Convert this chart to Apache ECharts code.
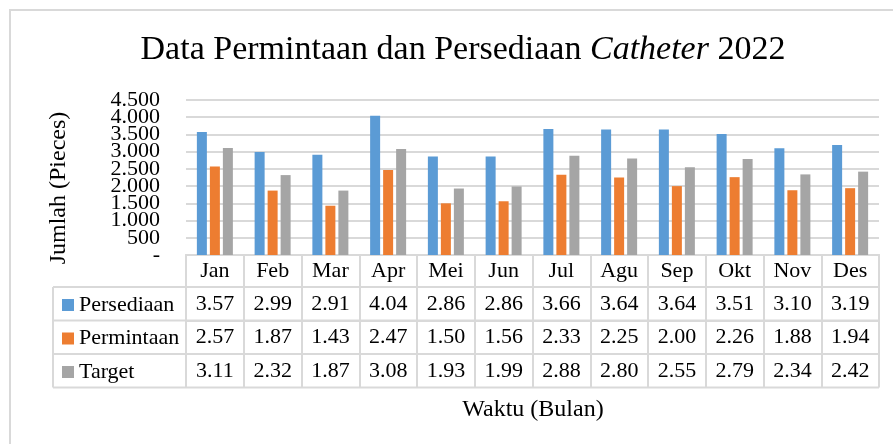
<!DOCTYPE html>
<html>
<head>
<meta charset="utf-8">
<script src="https://cdn.jsdelivr.net/npm/echarts@6/dist/echarts.min.js"></script>
<style>
  html, body { margin: 0; padding: 0; background: #fff; }
  #main { width: 893px; height: 444px; }
</style>
</head>
<body>
<div id="main"></div>
<script>
var months = ['Jan', 'Feb', 'Mar', 'Apr', 'Mei', 'Jun', 'Jul', 'Agu', 'Sep', 'Okt', 'Nov', 'Des'];
var persediaan = [3570, 2990, 2910, 4040, 2860, 2860, 3660, 3640, 3640, 3510, 3100, 3190];
var permintaan = [2570, 1870, 1430, 2470, 1500, 1560, 2330, 2250, 2000, 2260, 1880, 1940];
var target = [3110, 2320, 1870, 3080, 1930, 1990, 2880, 2800, 2550, 2790, 2340, 2420];
var yTicks = ['-', '500', '1.000', '1.500', '2.000', '2.500', '3.000', '3.500', '4.000', '4.500'];

var serif = '"Liberation Serif", "DejaVu Serif", serif';
var lineColor = '#d9d9d9';

// baris tabel data di bawah grafik
var rows = [
  { name: 'Persediaan', data: persediaan },
  { name: 'Permintaan', data: permintaan },
  { name: 'Target', data: target }
];

var chart = echarts.init(document.getElementById('main'));

var gridLeft = 186, gridRight = 14, gridTop = 100, gridBottom = 189;
var headerH = 32, rowH = 33.5;

var xAxes = [{
  type: 'category',
  data: months,
  position: 'bottom',
  axisLine: { show: true, lineStyle: { color: lineColor, width: 2 } },
  axisTick: { show: true, inside: false, length: headerH + rowH * 3, lineStyle: { color: lineColor, width: 2 } },
  axisLabel: { margin: headerH / 2, verticalAlign: 'middle', color: '#000', fontFamily: serif, fontSize: 22 }
}];
rows.forEach(function (r, i) {
  xAxes.push({
    type: 'category',
    data: months,
    position: 'bottom',
    offset: headerH + rowH * i,
    axisLine: { show: true, lineStyle: { color: lineColor, width: 2 } },
    axisTick: { show: false },
    axisLabel: {
      margin: rowH / 2,
      verticalAlign: 'middle',
      color: '#000',
      fontFamily: serif,
      fontSize: 22,
      formatter: function (v, idx) { return (r.data[idx] / 1000).toFixed(2); }
    }
  });
});

// dua sumbu y: satu untuk label tengah, satu untuk label ujung (agar tidak disembunyikan)
function yAxisDef(showEnds) {
  return {
    type: 'value',
    min: 0,
    max: 4500,
    interval: 500,
    axisLine: { show: false },
    axisTick: { show: false },
    axisLabel: {
      margin: 26,
      color: '#000',
      fontFamily: serif,
      fontSize: 22,
      lineHeight: 14,
      showMinLabel: showEnds,
      showMaxLabel: showEnds,
      formatter: function (v) {
        var isEnd = v === 0 || v === 4500;
        return isEnd === showEnds ? yTicks[Math.round(v / 500)] : '';
      }
    },
    splitLine: { show: !showEnds, lineStyle: { color: lineColor, width: 2 } }
  };
}

var tableTop = 444 - gridBottom;
var graphics = [
  { type: 'rect', shape: { x: 10, y: 10, width: 1000, height: 1000 }, style: { fill: 'none', stroke: lineColor, lineWidth: 2 }, silent: true }
];
for (var k = 0; k <= 3; k++) {
  var y = tableTop + headerH + rowH * k;
  graphics.push({ type: 'line', shape: { x1: 53, y1: y, x2: 893 - gridRight, y2: y }, style: { stroke: lineColor, lineWidth: 2 } });
}
graphics.push({ type: 'line', shape: { x1: 53, y1: tableTop + headerH, x2: 53, y2: tableTop + headerH + rowH * 3 }, style: { stroke: lineColor, lineWidth: 2 } });
graphics.push({
  type: 'text', x: 533, y: 410,
  style: { text: 'Waktu (Bulan)', font: '24px ' + serif, fill: '#000', textAlign: 'center', textVerticalAlign: 'middle' }
});
graphics.push({
  type: 'text', x: 59, y: 188, rotation: Math.PI / 2,
  style: { text: 'Jumlah (Pieces)', font: '24px ' + serif, fill: '#000', textAlign: 'center', textVerticalAlign: 'middle' }
});

var option = {
  backgroundColor: '#fff',
  animation: false,
  color: ['#5B9BD5', '#ED7D31', '#A5A5A5'],
  title: {
    text: '{n|Data Permintaan dan Persediaan }{i|Catheter}{n| 2022}',
    left: 458,
    top: 28,
    textAlign: 'center',
    textStyle: {
      fontWeight: 'normal',
      rich: {
        n: { fontFamily: serif, fontSize: 34, fontWeight: 'normal', color: '#000' },
        i: { fontFamily: serif, fontSize: 34, fontWeight: 'normal', fontStyle: 'italic', color: '#000' }
      }
    }
  },
  legend: {
    orient: 'vertical',
    left: 57,
    top: tableTop + headerH + 2,
    icon: 'rect',
    itemWidth: 12,
    itemHeight: 12,
    itemGap: 11.5,
    textStyle: { fontFamily: serif, fontSize: 22, color: '#000', lineHeight: 22 },
    selectedMode: false,
    data: rows.map(function (r) { return r.name; })
  },
  grid: { left: gridLeft, right: gridRight, top: gridTop, bottom: gridBottom },
  xAxis: xAxes,
  yAxis: [yAxisDef(false), yAxisDef(true)],
  series: rows.map(function (r) {
    return { name: r.name, type: 'bar', data: r.data, barWidth: 10, barGap: '30%', xAxisIndex: 0, yAxisIndex: 0 };
  }),
  graphic: graphics
};
option.yAxis[1].position = 'left';

chart.setOption(option);
</script>
</body>
</html>
